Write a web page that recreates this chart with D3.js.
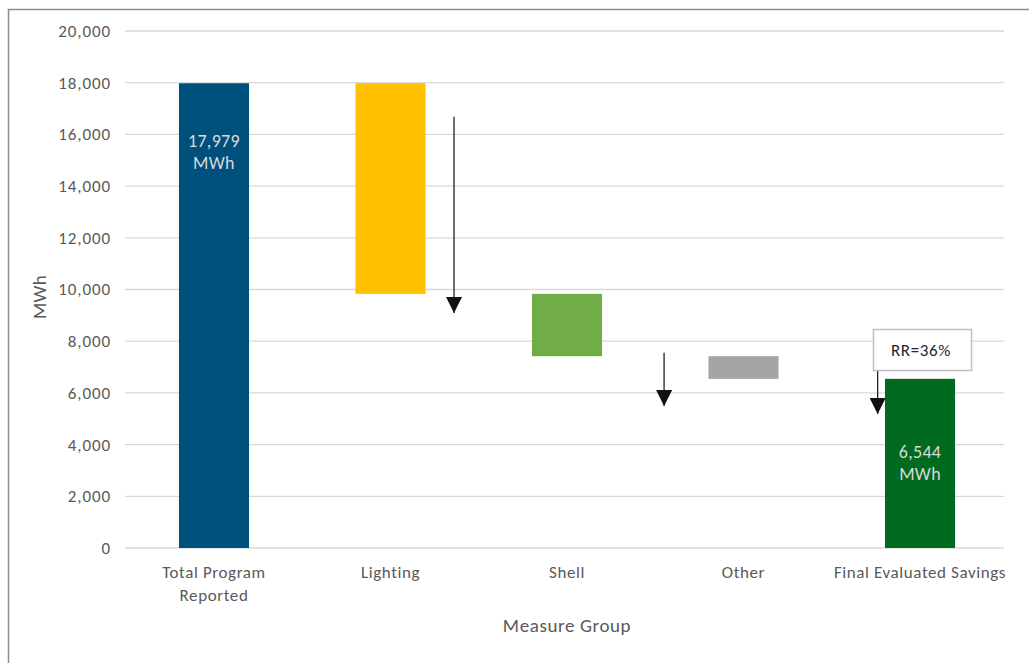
<!DOCTYPE html>
<html><head><meta charset="utf-8">
<script src="https://cdn.jsdelivr.net/npm/d3@7"></script>
<style>body{margin:0;background:#fff}svg{display:block}</style>
</head><body><div id="chart"></div>
<script>
const categories = ["Total Program Reported", "Lighting", "Shell", "Other", "Final Evaluated Savings"];
const categoryLines = [["Total Program", "Reported"], ["Lighting"], ["Shell"], ["Other"], ["Final Evaluated Savings"]];
const barBase = [0, 9830, 7420, 6544, 0];
const barTop = [17979, 17979, 9830, 7420, 6544];
const barColors = ["#00507D", "#FFC000", "#70AD47", "#A5A5A5", "#006A1E"];
const barLabels = [["17,979", "MWh"], null, null, null, ["6,544", "MWh"]];
const yTicks = [0, 2000, 4000, 6000, 8000, 10000, 12000, 14000, 16000, 18000, 20000];
// arrows: [category index, offset in band steps, start value, end value]
const arrowCat = [1, 2, 4];
const arrowOffset = [0.36, 0.55, -0.24];
const arrowFrom = [16680, 7550, 7200];
const arrowTo = [9090, 5490, 5180];
const rrText = "RR=36%";

const W = 1029, H = 663;
const svg = d3.select("#chart").append("svg").attr("width", W).attr("height", H);
const font = "Carlito, 'Liberation Sans Narrow', Lato, sans-serif";

svg.append("rect").attr("x", 8.5).attr("y", 9.5).attr("width", 1100).attr("height", 800)
  .attr("fill", "none").attr("stroke", "#8c8c8c").attr("stroke-width", 1.5);

const x = d3.scaleBand().domain(categories).range([126, 1008]).paddingInner(0.603).paddingOuter(0.3);
const y = d3.scaleLinear().domain([0, 20000]).range([548, 31]);

// gridlines
svg.append("g").selectAll("line").data(yTicks).join("line")
  .attr("x1", 125).attr("x2", 1004)
  .attr("y1", d => y(d)).attr("y2", d => y(d))
  .attr("stroke", "#d9d9d9").attr("stroke-width", 1.3);

// y axis
const yAxis = svg.append("g").attr("transform", "translate(111,0)")
  .call(d3.axisLeft(y).tickValues(yTicks).tickFormat(d3.format(",")).tickSize(0).tickPadding(0));
yAxis.select(".domain").remove();
yAxis.selectAll("text").attr("font-family", font).attr("font-size", 17).attr("letter-spacing", 0.9).attr("fill", "#595959");

// bars
svg.append("g").selectAll("rect").data(categories).join("rect")
  .attr("x", d => x(d)).attr("width", x.bandwidth())
  .attr("y", (d, i) => y(barTop[i]))
  .attr("height", (d, i) => y(barBase[i]) - y(barTop[i]))
  .attr("fill", (d, i) => barColors[i]);

// bar labels
categories.forEach((c, i) => {
  if (!barLabels[i]) return;
  const t = svg.append("text").attr("text-anchor", "middle")
    .attr("font-family", font).attr("font-size", 18).attr("letter-spacing", 0.3).attr("fill", "#d9d9d9");
  const y0 = i === 0 ? y(barTop[i]) + 64 : y(barTop[i]) + 79;
  barLabels[i].forEach((s, k) => {
    t.append("tspan").attr("x", x(c) + x.bandwidth() / 2).attr("y", y0 + k * 22).text(s);
  });
});

// x axis labels
const xAxis = svg.append("g").attr("transform", "translate(0,548)")
  .call(d3.axisBottom(x).tickSize(0).tickFormat(""));
xAxis.select(".domain").remove();
xAxis.selectAll(".tick").each(function(d, i) {
  const t = d3.select(this).append("text").attr("text-anchor", "middle")
    .attr("font-family", font).attr("font-size", 17).attr("letter-spacing", 0.6).attr("fill", "#595959");
  categoryLines[i].forEach((s, k) => t.append("tspan").attr("x", 0).attr("y", 30 + k * 23).text(s));
});

// axis titles
svg.append("text").attr("x", 567).attr("y", 632).attr("text-anchor", "middle")
  .attr("font-family", font).attr("font-size", 19).attr("letter-spacing", 0.6).attr("fill", "#595959").text("Measure Group");
svg.append("text").attr("transform", "translate(46,297) rotate(-90)").attr("text-anchor", "middle")
  .attr("font-family", font).attr("font-size", 19).attr("letter-spacing", 0.3).attr("fill", "#595959").text("MWh");

// arrows
svg.append("defs").append("marker").attr("id", "ah").attr("viewBox", "0 0 10 10")
  .attr("refX", 10).attr("refY", 5).attr("markerWidth", 16).attr("markerHeight", 16)
  .attr("markerUnits", "userSpaceOnUse").attr("orient", "auto")
  .append("path").attr("d", "M0,0 L10,5 L0,10 Z").attr("fill", "#111");
arrowCat.forEach((ci, i) => {
  const cx = x(categories[ci]) + x.bandwidth() / 2 + arrowOffset[i] * x.step();
  svg.append("line").attr("x1", cx).attr("x2", cx)
    .attr("y1", y(arrowFrom[i])).attr("y2", y(arrowTo[i]))
    .attr("stroke", "#222").attr("stroke-width", 1.3).attr("marker-end", "url(#ah)");
});

// RR box
svg.append("rect").attr("x", 873.5).attr("y", 329.5).attr("width", 98).attr("height", 41)
  .attr("fill", "#fff").attr("stroke", "#bfbfbf").attr("stroke-width", 1.5);
svg.append("text").attr("x", 921).attr("y", 356).attr("text-anchor", "middle")
  .attr("font-family", font).attr("font-size", 17).attr("letter-spacing", 0.6).attr("fill", "#262626").text(rrText);
</script></body></html>
